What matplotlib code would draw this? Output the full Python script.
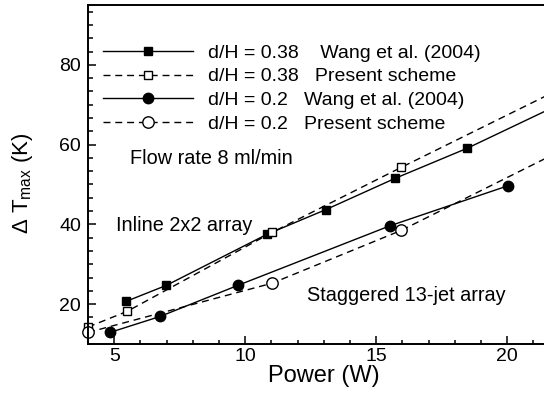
import matplotlib
matplotlib.use("Agg")
import matplotlib.pyplot as plt
from matplotlib.ticker import MultipleLocator

plt.rcParams['font.family'] = ['Liberation Sans', 'DejaVu Sans']
plt.rcParams['mathtext.fontset'] = 'custom'
plt.rcParams['mathtext.rm'] = 'Liberation Sans'
plt.rcParams['mathtext.it'] = 'Liberation Sans:italic'
plt.rcParams['mathtext.bf'] = 'Liberation Sans:bold'

# Data (Power W, Delta T max K)
x_wang38 = [5.46, 6.99, 10.83, 13.08, 15.71, 18.48, 22.0]
y_wang38 = [20.7, 24.7, 37.5, 43.7, 51.5, 59.1, 70.1]
x_pres38 = [4.0, 5.5, 11.03, 15.96, 22.0]
y_pres38 = [14.25, 18.2, 38.0, 54.3, 73.9]
x_wang20 = [4.84, 6.75, 9.74, 15.53, 20.04]
y_wang20 = [12.9, 16.9, 24.75, 39.65, 49.7]
x_pres20 = [4.0, 11.03, 15.96, 22.0]
y_pres20 = [12.9, 25.25, 38.5, 58.3]

labels = ["d/H = 0.38    Wang et al. (2004)",
          "d/H = 0.38   Present scheme",
          "d/H = 0.2   Wang et al. (2004)",
          "d/H = 0.2   Present scheme"]

fig = plt.figure(figsize=(5.44, 3.99), dpi=100)
ax = fig.add_axes([88/544, 55/399, (559.6-88)/544, 339/399])

dash = (0, (5, 3.5))
lw = 1.0
l1, = ax.plot(x_wang38, y_wang38, '-', color='black', lw=lw, marker='s', ms=5.6,
              mfc='black', mec='black', clip_on=False)
l2, = ax.plot(x_pres38, y_pres38, linestyle=dash, color='black', lw=lw, marker='s', ms=6.0,
              mfc='white', mec='black', mew=1.0, clip_on=False)
l3, = ax.plot(x_wang20, y_wang20, '-', color='black', lw=lw, marker='o', ms=7.5,
              mfc='black', mec='black', clip_on=False)
l4, = ax.plot(x_pres20, y_pres20, linestyle=dash, color='black', lw=lw, marker='o', ms=8.2,
              mfc='white', mec='black', mew=1.0, clip_on=False)

ax.set_xlim(4, 22)
ax.set_ylim(10, 95)
ax.xaxis.set_major_locator(MultipleLocator(5))
ax.xaxis.set_minor_locator(MultipleLocator(1))
ax.yaxis.set_major_locator(MultipleLocator(20))
ax.yaxis.set_minor_locator(MultipleLocator(20/6))

ax.tick_params(which='both', direction='in', width=1.1, labelsize=14, top=False, right=False)
ax.tick_params(axis='y', which='major', length=6, pad=5)
ax.tick_params(axis='y', which='minor', length=3.5)
ax.tick_params(axis='x', which='major', length=6, pad=3)
ax.tick_params(axis='x', which='minor', length=3)
for s in ax.spines.values():
    s.set_linewidth(1.4)

ax.set_xlabel("Power (W)", fontsize=17, labelpad=0)
ax.set_ylabel("Δ T$_{\\rm max}$ (K)", fontsize=16)
ax.yaxis.set_label_coords(-0.112, 0.473)

ax.text(5.6, 56.5, "Flow rate 8 ml/min", fontsize=14.3, va='center', ha='left')
ax.text(5.05, 39.75, "Inline 2x2 array", fontsize=14.3, va='center', ha='left')
ax.text(12.37, 22.25, "Staggered 13-jet array", fontsize=14.3, va='center', ha='left')

fig.legend([l1, l2, l3, l4], labels, loc='upper left',
           bbox_to_anchor=(103/544, 0.89), frameon=False, fontsize=14,
           numpoints=1, handlelength=4.63, handletextpad=0.77,
           labelspacing=0.32, borderpad=0, borderaxespad=0)

fig.savefig("out.png", dpi=100)
